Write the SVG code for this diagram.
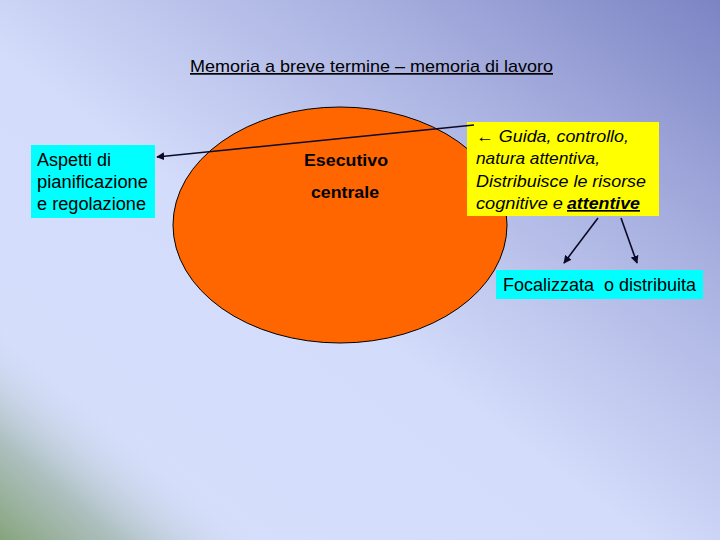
<svg xmlns="http://www.w3.org/2000/svg" width="720" height="540" viewBox="0 0 720 540">
<defs>
<linearGradient id="bg" x1="0" y1="1" x2="1" y2="0">
<stop offset="0" stop-color="#d6dffc"/>
<stop offset="0.45" stop-color="#d3dcfa"/>
<stop offset="0.75" stop-color="#a8b0e0"/>
<stop offset="1" stop-color="#7c84c4"/>
</linearGradient>
<linearGradient id="green" x1="0" y1="540" x2="110" y2="410" gradientUnits="userSpaceOnUse">
<stop offset="0" stop-color="#86a47c" stop-opacity="1"/>
<stop offset="0.45" stop-color="#a6bab4" stop-opacity="0.85"/>
<stop offset="1" stop-color="#d4ddf8" stop-opacity="0"/>
</linearGradient>
<marker id="ah" viewBox="0 0 10 10" refX="9" refY="5" markerWidth="8" markerHeight="8" orient="auto" markerUnits="userSpaceOnUse">
<path d="M0,0 L10,5 L0,10 z" fill="#0a0a28"/>
</marker>
<style>
.t{font-family:"Liberation Sans",Arial,sans-serif;fill:#000;}
.c{stroke:#0a0a28;stroke-width:1.6;fill:none;}
</style>
</defs>
<rect width="720" height="540" fill="url(#bg)"/>
<rect width="720" height="540" fill="url(#green)"/>
<g id="title">
<text class="t" x="190" y="72" font-size="17" textLength="363" lengthAdjust="spacingAndGlyphs" text-decoration="underline">Memoria a breve termine – memoria di lavoro</text>
</g>
<g id="esecutivo">
<ellipse cx="340" cy="225" rx="167" ry="118" fill="#ff6600" stroke="#000" stroke-width="1"/>
<text class="t" x="304" y="166" font-size="16.5" font-weight="bold" textLength="84" lengthAdjust="spacingAndGlyphs">Esecutivo</text>
<text class="t" x="311" y="198" font-size="16.5" font-weight="bold" textLength="68" lengthAdjust="spacingAndGlyphs">centrale</text>
</g>
<g id="aspetti">
<rect x="31" y="145" width="124" height="73" fill="#00ffff"/>
<text class="t" x="37" y="166" font-size="17.5" textLength="74" lengthAdjust="spacingAndGlyphs">Aspetti di</text>
<text class="t" x="37" y="188" font-size="17.5" textLength="111" lengthAdjust="spacingAndGlyphs">pianificazione</text>
<text class="t" x="37" y="210" font-size="17.5" textLength="109" lengthAdjust="spacingAndGlyphs">e regolazione</text>
</g>
<g id="guida">
<rect x="467" y="122" width="192" height="94" fill="#ffff00"/>
<text class="t" x="476" y="142" font-size="16.5" font-style="italic" textLength="153" lengthAdjust="spacingAndGlyphs">← Guida, controllo,</text>
<text class="t" x="476" y="164" font-size="16.5" font-style="italic" textLength="124" lengthAdjust="spacingAndGlyphs">natura attentiva,</text>
<text class="t" x="476" y="187" font-size="16.5" font-style="italic" textLength="170" lengthAdjust="spacingAndGlyphs">Distribuisce le risorse</text>
<text class="t" x="476" y="209" font-size="16.5" font-style="italic" textLength="87" lengthAdjust="spacingAndGlyphs">cognitive e</text>
<text class="t" x="567" y="209" font-size="16.5" font-style="italic" font-weight="bold" text-decoration="underline" textLength="73" lengthAdjust="spacingAndGlyphs">attentive</text>
</g>
<g id="focalizzata">
<rect x="496" y="270" width="207" height="29" fill="#00ffff"/>
<text class="t" x="503" y="291" font-size="17.5" xml:space="preserve" textLength="193" lengthAdjust="spacingAndGlyphs">Focalizzata  o distribuita</text>
</g>
<g id="connectors">
<line class="c" x1="474" y1="125" x2="157" y2="157" marker-end="url(#ah)"/>
<line class="c" x1="598" y1="218" x2="564" y2="263" marker-end="url(#ah)"/>
<line class="c" x1="621" y1="218" x2="637" y2="263" marker-end="url(#ah)"/>
</g>
</svg>
